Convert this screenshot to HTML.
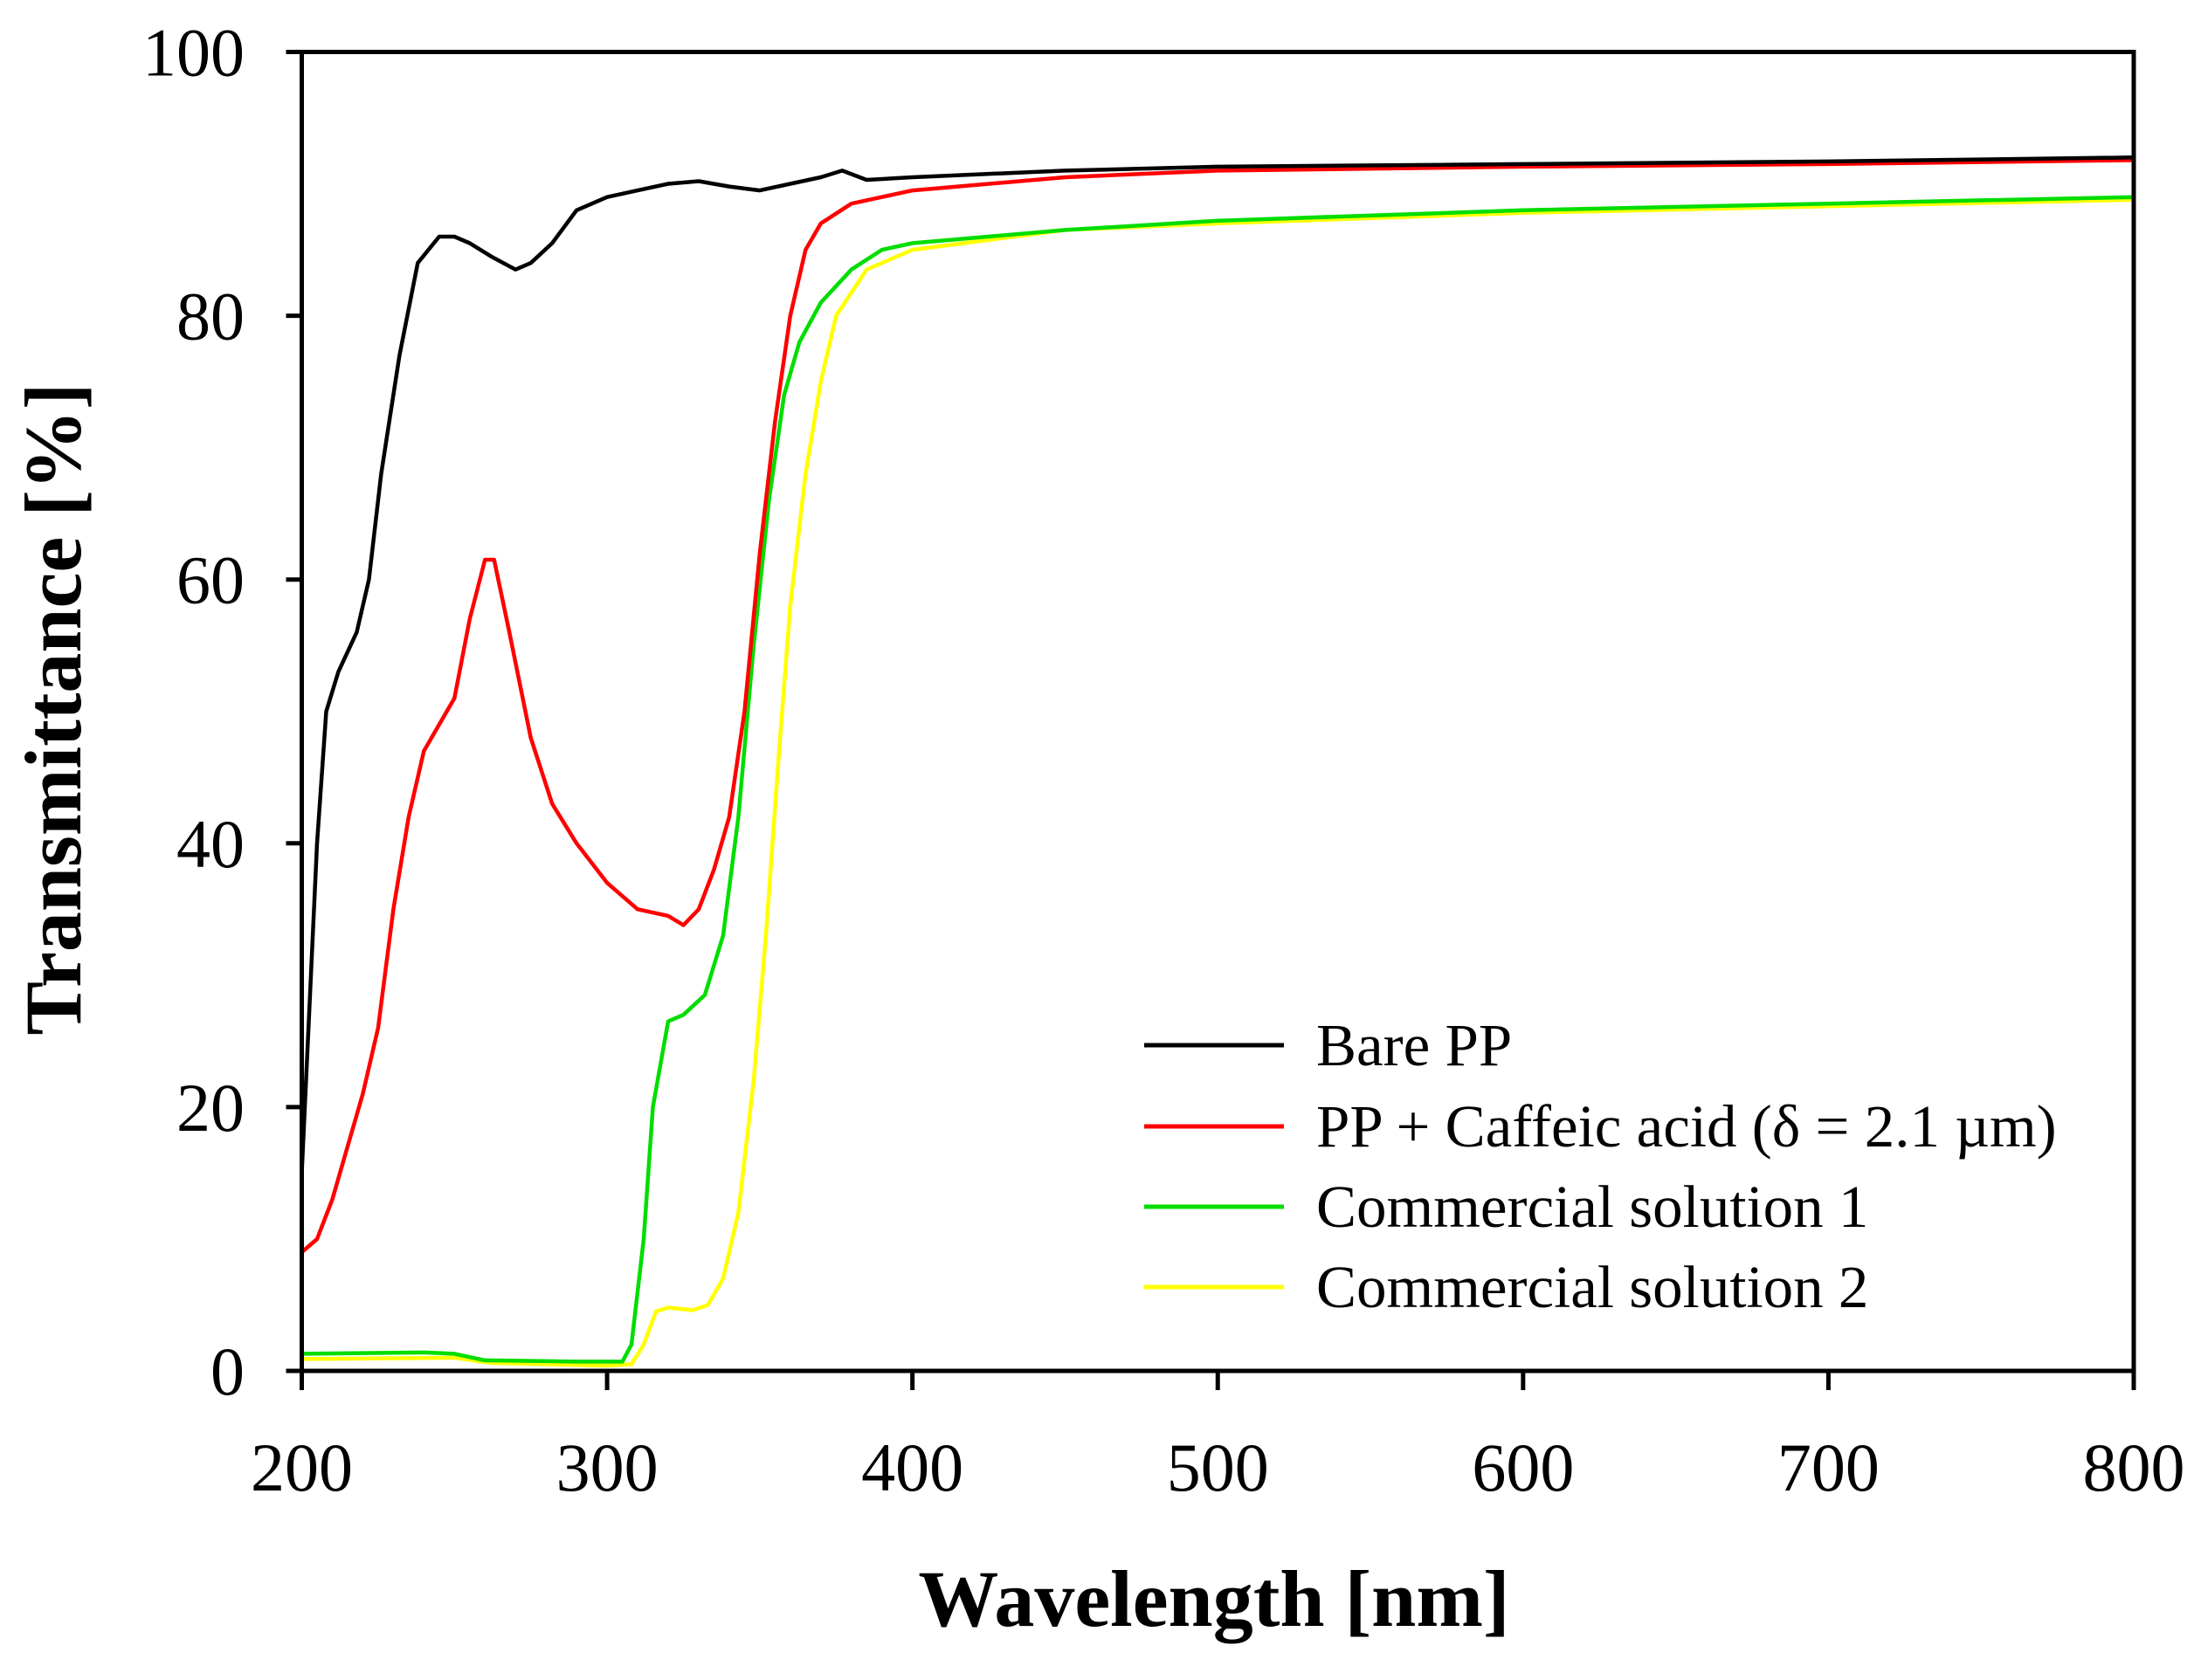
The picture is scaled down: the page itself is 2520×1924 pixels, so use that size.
<!DOCTYPE html>
<html><head><meta charset="utf-8"><style>
html,body{margin:0;padding:0;background:#fff;}
svg{display:block;font-family:"Liberation Serif",serif;}
</style></head><body>
<svg id="chart" width="2520" height="1924" viewBox="0 0 2520 1924">
<g id="plot"></g>
<g id="axes"></g>
<g id="legend"></g>
<text x="1390" y="1862" font-size="92" font-weight="bold" text-anchor="middle">Wavelength [nm]</text>
<text transform="translate(92,812) rotate(-90)" font-size="92" font-weight="bold" text-anchor="middle">Transmittance [%]</text>
</svg>
<script>
const xTicks=[200,300,400,500,600,700,800];
const yTicks=[0,20,40,60,80,100];
const seriesNames=["Bare PP","PP + Caffeic acid (\u03b4 = 2.1 \u00b5m)","Commercial solution 1","Commercial solution 2"];
const seriesColors=["#000000","#ff0000","#00dd00","#ffff00"];
const bareX=[200,202,205,208,212,218,222,226,232,238,245,250,255,262,270,275,282,290,300,310,320,330,340,350,360,370,377,385,400,450,500,600,700,800];
const bareY=[15,25,40,50,53,56,60,68,77,84,86,86,85.5,84.5,83.5,84,85.5,88,89,89.5,90,90.2,89.8,89.5,90,90.5,91,90.3,90.5,91,91.3,91.5,91.7,92];
const caffX=[200,205,210,215,220,225,230,235,240,250,255,260,263,268,275,282,290,300,310,320,325,330,335,340,345,350,355,360,365,370,380,400,450,500,600,700,800];
const caffY=[9,10,13,17,21,26,35,42,47,51,57,61.5,61.5,56,48,43,40,37,35,34.5,33.8,35,38,42,50,62,72,80,85,87,88.5,89.5,90.5,91,91.3,91.5,91.8];
const com1X=[200,240,250,260,290,305,308,312,315,320,325,332,338,343,348,353,358,363,370,380,390,400,450,500,600,700,800];
const com1Y=[1.3,1.4,1.3,0.8,0.7,0.7,2,10,20,26.5,27,28.5,33,42,55,66,74,78,81,83.5,85,85.5,86.5,87.2,88,88.5,89];
const com2X=[200,250,262,300,308,312,316,320,328,333,338,343,348,352,356,360,365,370,375,385,400,450,500,600,700,800];
const com2Y=[0.9,1,0.6,0.4,0.5,2,4.5,4.8,4.6,5,7,12,22,33,46,58,68,75,80,83.5,85,86.5,87,87.8,88.3,88.8];

const L=345.5,R=2443,T=59.5,B=1570;
const sx=v=>L+(v-200)/600*(R-L);
const sy=v=>B-v/100*(B-T);
const NS="http://www.w3.org/2000/svg";
function mk(tag,attrs,parent){const e=document.createElementNS(NS,tag);for(const k in attrs)e.setAttribute(k,attrs[k]);parent.appendChild(e);return e;}
const plot=document.getElementById('plot'),axes=document.getElementById('axes'),legend=document.getElementById('legend');
const all=[[bareX,bareY],[caffX,caffY],[com1X,com1Y],[com2X,com2Y]];
const lineNames=['bare-pp-line','caffeic-acid-line','commercial-1-line','commercial-2-line'];
[3,2,1,0].forEach(i=>{
  const [xs,ys]=all[i];
  const d=xs.map((x,j)=>(j?'L':'M')+sx(x).toFixed(1)+','+sy(ys[j]).toFixed(1)).join(' ');
  const p=mk('path',{d:d,fill:'none',stroke:seriesColors[i],'stroke-width':4.5,'stroke-linejoin':'round'},plot);
  
  
});
const frame=mk('rect',{x:L,y:T,width:R-L,height:B-T,fill:'none',stroke:'#000','stroke-width':5},axes);


xTicks.forEach(v=>{
  const x=sx(v);
  const t=mk('line',{x1:x,y1:B,x2:x,y2:B+22,stroke:'#000','stroke-width':5},axes);
  
  
  const lb=mk('text',{x:x,y:1707,'font-size':78,'text-anchor':'middle'},axes);
  lb.textContent=v;
  
  
});
yTicks.forEach(v=>{
  const y=sy(v);
  const t=mk('line',{x1:L-18,y1:y,x2:L,y2:y,stroke:'#000','stroke-width':5},axes);
  
  
  const lb=mk('text',{x:280,y:y+27,'font-size':78,'text-anchor':'end'},axes);
  lb.textContent=v;
  
  
});
const legY=[1197,1290,1382,1474];
seriesNames.forEach((n,i)=>{
  const ln=mk('line',{x1:1310,y1:legY[i],x2:1470,y2:legY[i],stroke:seriesColors[i],'stroke-width':5},legend);
  
  
  const tx=mk('text',{x:1507,y:legY[i]+23,'font-size':69},legend);
  tx.textContent=n;
  
  
});
</script>
</body></html>
